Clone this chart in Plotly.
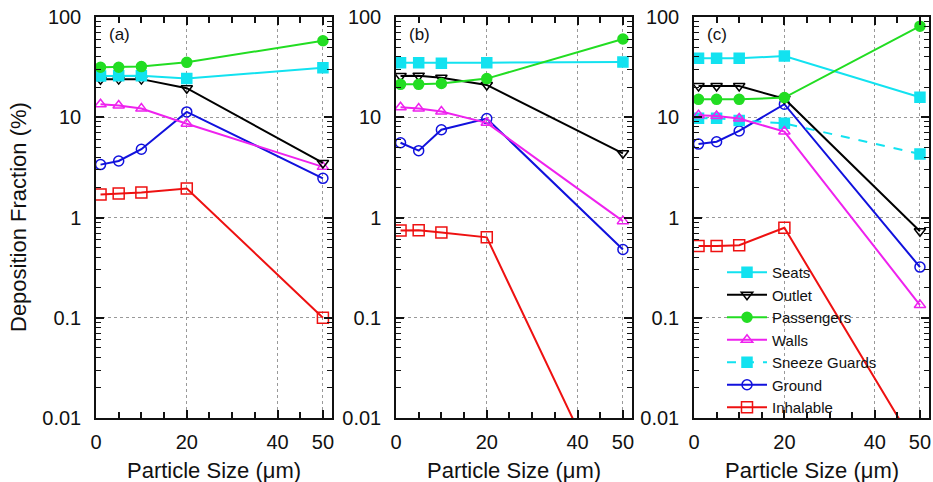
import plotly.graph_objects as go

# ---------------- data ----------------
sizes = [1, 5, 10, 20, 50]
panel_labels = ["(a)", "(b)", "(c)"]
series_names = ["Seats", "Outlet", "Passengers", "Walls", "Sneeze Guards", "Ground", "Inhalable"]

seats_a = [25.8, 26.0, 26.0, 24.3, 31.2]
outlet_a = [23.9, 24.0, 24.0, 19.5, 3.5]
passengers_a = [31.5, 31.5, 32.0, 35.3, 58.0]
walls_a = [13.5, 13.1, 12.2, 8.6, 3.2]
ground_a = [3.37, 3.66, 4.8, 11.3, 2.46]
inhalable_a = [1.70, 1.74, 1.78, 1.95, 0.1]

seats_b = [35.0, 35.0, 34.5, 35.0, 35.5]
outlet_b = [25.8, 26.0, 24.8, 21.0, 4.37]
passengers_b = [21.3, 21.3, 21.7, 24.3, 60.3]
walls_b = [12.6, 12.2, 11.4, 8.8, 0.92]
ground_b = [5.57, 4.64, 7.5, 9.7, 0.48]
inhalable_b = [0.74, 0.745, 0.71, 0.634, 0.00087]

seats_c = [38.7, 38.7, 38.7, 40.8, 15.8]
outlet_c = [20.5, 20.5, 20.5, 15.3, 0.73]
passengers_c = [15.1, 15.1, 15.1, 15.7, 81.0]
walls_c = [10.5, 10.3, 9.7, 7.2, 0.134]
sneeze_c = [9.8, 9.8, 9.3, 8.7, 4.3]
ground_c = [5.4, 5.7, 7.3, 13.5, 0.32]
inhalable_c = [0.52, 0.52, 0.53, 0.79, 0.0044]

x_tick_vals = [0, 20, 40, 50]
y_tick_vals = [0.01, 0.1, 1, 10, 100]
y_tick_text = ["0.01", "0.1", "1", "10", "100"]

# ---------------- styles ----------------
styles = {
    "Seats": dict(color="#12E2F0", symbol="square", dash="solid", size=10),
    "Outlet": dict(color="#000000", symbol="triangle-down-open", dash="solid", size=10),
    "Passengers": dict(color="#22DD22", symbol="circle", dash="solid", size=10),
    "Walls": dict(color="#EE22EE", symbol="triangle-up-open", dash="solid", size=10),
    "Sneeze Guards": dict(color="#12E2F0", symbol="square", dash="dash", size=10),
    "Ground": dict(color="#1111DD", symbol="circle-open", dash="solid", size=10),
    "Inhalable": dict(color="#EE1111", symbol="square-open", dash="solid", size=11),
}

panels = [
    {"Seats": seats_a, "Outlet": outlet_a, "Passengers": passengers_a, "Walls": walls_a,
     "Ground": ground_a, "Inhalable": inhalable_a},
    {"Seats": seats_b, "Outlet": outlet_b, "Passengers": passengers_b, "Walls": walls_b,
     "Ground": ground_b, "Inhalable": inhalable_b},
    {"Seats": seats_c, "Outlet": outlet_c, "Passengers": passengers_c, "Walls": walls_c,
     "Sneeze Guards": sneeze_c, "Ground": ground_c, "Inhalable": inhalable_c},
]

W, H = 933, 482
x_domains_px = [(96, 332), (396, 632), (694, 929)]
y_domain_px = (17, 418)

fig = go.Figure()

draw_order = ["Inhalable", "Ground", "Sneeze Guards", "Walls", "Outlet", "Seats", "Passengers"]
for i, pdata in enumerate(panels):
    xa = "x" if i == 0 else f"x{i+1}"
    ya = "y" if i == 0 else f"y{i+1}"
    for name in draw_order:
        if name not in pdata:
            continue
        st = styles[name]
        fig.add_trace(go.Scatter(
            x=sizes, y=pdata[name], xaxis=xa, yaxis=ya, name=name,
            mode="lines+markers",
            line=dict(color=st["color"], width=2, dash=st["dash"]),
            marker=dict(symbol=st["symbol"], size=st["size"], color=st["color"],
                        line=dict(color=st["color"], width=1.5)),
            showlegend=(i == 2),
            legendrank=series_names.index(name) + 1,
        ))

font_family = "Liberation Sans, Arial, sans-serif"
txt_color = "#111111"
minor_y = [k * 10.0 ** e for e in range(-2, 2) for k in range(2, 10)]

layout = dict(
    width=W, height=H,
    margin=dict(l=0, r=0, t=0, b=0, autoexpand=False),
    paper_bgcolor="white", plot_bgcolor="white",
    font=dict(family=font_family, color=txt_color, size=20),
    showlegend=True,
    legend=dict(
        x=722 / W, y=1 - 256 / H, xanchor="left", yanchor="top",
        bgcolor="rgba(0,0,0,0)", borderwidth=0,
        font=dict(size=15, family=font_family, color=txt_color),
        tracegroupgap=0, itemwidth=40,
    ),
)

for i, (x0, x1) in enumerate(x_domains_px):
    xk = "xaxis" if i == 0 else f"xaxis{i+1}"
    yk = "yaxis" if i == 0 else f"yaxis{i+1}"
    anchor_x = "y" if i == 0 else f"y{i+1}"
    anchor_y = "x" if i == 0 else f"x{i+1}"
    layout[xk] = dict(
        domain=[x0 / W, x1 / W], anchor=anchor_x, range=[0, 52], automargin=False,
        tickmode="array", tickvals=x_tick_vals,
        ticks="inside", ticklen=8, tickwidth=1.5, tickcolor=txt_color,
        showline=True, linecolor=txt_color, linewidth=1.5, mirror="allticks",
        showgrid=True, gridcolor="#999999", gridwidth=1, griddash="dot",
        zeroline=False, ticklabelstandoff=5,
        tickfont=dict(size=20, family=font_family, color=txt_color),
        minor=dict(ticks="inside", ticklen=6, tickwidth=1.5, tickcolor=txt_color,
                   tickmode="linear", tick0=0, dtick=5, showgrid=False),
    )
    layout[yk] = dict(
        domain=[1 - y_domain_px[1] / H, 1 - y_domain_px[0] / H], anchor=anchor_y,
        type="log", range=[-2, 2], automargin=False,
        tickmode="array", tickvals=y_tick_vals, ticktext=y_tick_text,
        ticks="inside", ticklen=8, tickwidth=1.5, tickcolor=txt_color,
        showline=True, linecolor=txt_color, linewidth=1.5, mirror="allticks",
        showgrid=True, gridcolor="#999999", gridwidth=1, griddash="dot",
        zeroline=False, ticklabelstandoff=9,
        tickfont=dict(size=20, family=font_family, color=txt_color),
        minor=dict(ticks="inside", ticklen=5, tickwidth=1.2, tickcolor=txt_color,
                   tickmode="array", tickvals=minor_y, showgrid=False),
    )

annotations = []
for i, (x0, x1) in enumerate(x_domains_px):
    annotations.append(dict(
        text="Particle Size (\u03bcm)", xref="paper", yref="paper",
        x=(x0 + x1) / 2 / W, y=1 - 470 / H, xanchor="center", yanchor="middle",
        showarrow=False, font=dict(size=22, family=font_family, color=txt_color),
    ))
    annotations.append(dict(
        text=panel_labels[i], xref="paper", yref="paper",
        x=(x0 + 11) / W, y=1 - 35 / H, xanchor="left", yanchor="middle",
        showarrow=False, font=dict(size=17, family=font_family, color=txt_color),
    ))
annotations.append(dict(
    text="Deposition Fraction (%)", xref="paper", yref="paper",
    x=19 / W, y=1 - 217 / H, xanchor="center", yanchor="middle", textangle=-90,
    showarrow=False, font=dict(size=22, family=font_family, color=txt_color),
))
layout["annotations"] = annotations

fig.update_layout(**layout)
fig.write_html("out.html")
